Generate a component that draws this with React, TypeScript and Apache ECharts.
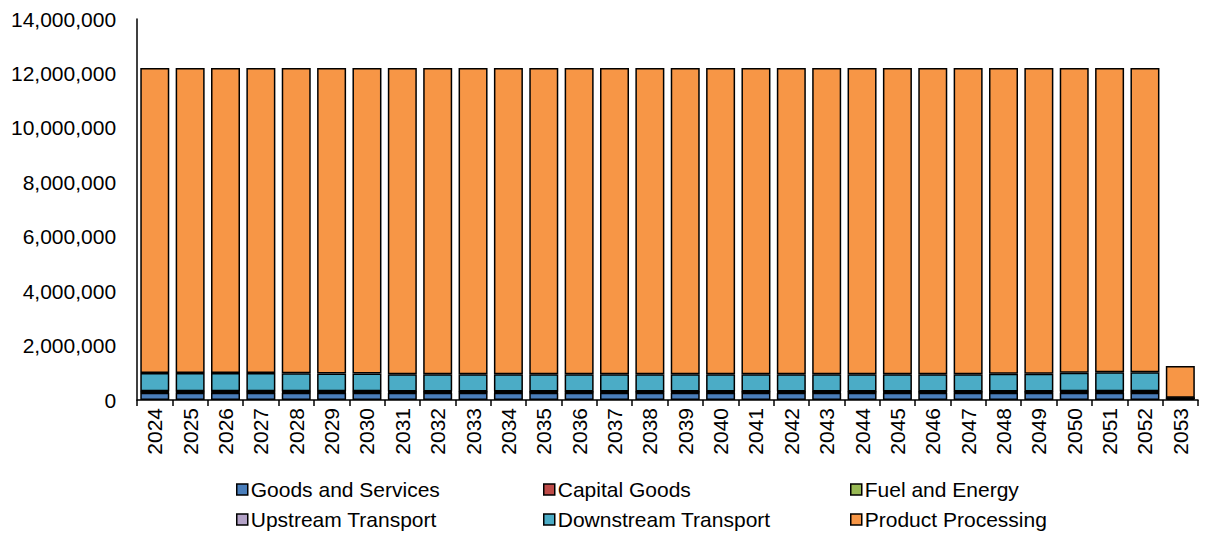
import React, { useEffect, useRef } from "react";
import * as echarts from "echarts";

const years = [
  "2024","2025","2026","2027","2028","2029","2030","2031","2032","2033",
  "2034","2035","2036","2037","2038","2039","2040","2041","2042","2043",
  "2044","2045","2046","2047","2048","2049","2050","2051","2052","2053",
];

const goodsAndServices = [
  270000,270000,270000,270000,270000,270000,270000,265000,265000,265000,
  265000,265000,265000,265000,265000,265000,265000,265000,265000,265000,
  265000,265000,265000,265000,265000,265000,270000,270000,270000,50000,
];
const capitalGoods = [
  20000,20000,20000,20000,20000,20000,20000,20000,20000,20000,
  20000,20000,20000,20000,20000,20000,20000,20000,20000,20000,
  20000,20000,20000,20000,20000,20000,20000,20000,20000,5000,
];
const fuelAndEnergy = [
  15000,15000,15000,15000,15000,15000,15000,15000,15000,15000,
  15000,15000,15000,15000,15000,15000,15000,15000,15000,15000,
  15000,15000,15000,15000,15000,15000,15000,15000,15000,5000,
];
const upstreamTransport = [
  15000,15000,15000,15000,15000,15000,15000,15000,15000,15000,
  15000,15000,15000,15000,15000,15000,15000,15000,15000,15000,
  15000,15000,15000,15000,15000,15000,15000,15000,15000,5000,
];
const downstreamTransport = [
  670000,670000,670000,670000,660000,650000,650000,630000,630000,630000,
  630000,630000,630000,630000,630000,630000,630000,630000,630000,630000,
  630000,630000,630000,630000,650000,650000,680000,700000,700000,15000,
];
const productProcessing = [
  11210000,11210000,11210000,11210000,11220000,11230000,11230000,11255000,11255000,11255000,
  11255000,11255000,11255000,11255000,11255000,11255000,11255000,11255000,11255000,11255000,
  11255000,11255000,11255000,11255000,11235000,11235000,11200000,11180000,11180000,1170000,
];

const yTicks = [0, 2000000, 4000000, 6000000, 8000000, 10000000, 12000000, 14000000];

const seriesDefs = [
  { name: "Goods and Services", data: goodsAndServices, color: "#4a7ebb" },
  { name: "Capital Goods", data: capitalGoods, color: "#be4b48" },
  { name: "Fuel and Energy", data: fuelAndEnergy, color: "#98b954" },
  { name: "Upstream Transport", data: upstreamTransport, color: "#b3a2c7" },
  { name: "Downstream Transport", data: downstreamTransport, color: "#4bacc6" },
  { name: "Product Processing", data: productProcessing, color: "#f79646" },
];

const FONT = "'Liberation Sans', Arial, sans-serif";

export default function App() {
  const ref = useRef<HTMLDivElement>(null);
  useEffect(() => {
    if (!ref.current) return;
    const chart = echarts.init(ref.current, undefined, { renderer: "svg" });
    const legendCommon = {
      orient: "vertical" as const,
      top: 466,
      height: 60,
      itemWidth: 11,
      itemHeight: 11,
      itemGap: 9,
      icon: "rect",
      selectedMode: false,
      textStyle: { fontFamily: FONT, fontSize: 21, color: "#000", padding: [0, 0, 0, -2] },
      itemStyle: { borderColor: "#000", borderWidth: 1.5 },
    };
    chart.setOption({
      animation: false,
      textStyle: { fontFamily: FONT },
      grid: { left: 126, right: 2, top: 11, bottom: 135, containLabel: false },
      legend: [
        { ...legendCommon, left: 223, data: ["Goods and Services", "Upstream Transport"] },
        { ...legendCommon, left: 530, data: ["Capital Goods", "Downstream Transport"] },
        { ...legendCommon, left: 837, data: ["Fuel and Energy", "Product Processing"] },
      ],
      xAxis: {
        type: "category",
        data: years,
        axisLine: { lineStyle: { color: "#000", width: 1.5 } },
        axisTick: { show: true, length: 6, lineStyle: { color: "#000", width: 1.5 } },
        axisLabel: { rotate: 90, fontSize: 21, color: "#000", fontFamily: FONT, margin: 8 },
      },
      yAxis: {
        type: "value",
        min: 0,
        max: 14000000,
        interval: 2000000,
        splitLine: { show: false },
        axisLine: { show: true, lineStyle: { color: "#000", width: 1.5 } },
        axisTick: { show: false },
        axisLabel: {
          fontSize: 21,
          color: "#000",
          fontFamily: FONT,
          margin: 21,
          formatter: (v: number) => (yTicks.includes(v) ? v.toLocaleString("en-US") : ""),
        },
      },
      series: seriesDefs.map((s) => ({
        name: s.name,
        type: "bar",
        stack: "total",
        data: s.data,
        barCategoryGap: "18%",
        itemStyle: { color: s.color, borderColor: "#000", borderWidth: 1.5 },
      })),
    });
    return () => chart.dispose();
  }, []);
  return <div ref={ref} style={{ width: 1192, height: 527 }} />;
}
